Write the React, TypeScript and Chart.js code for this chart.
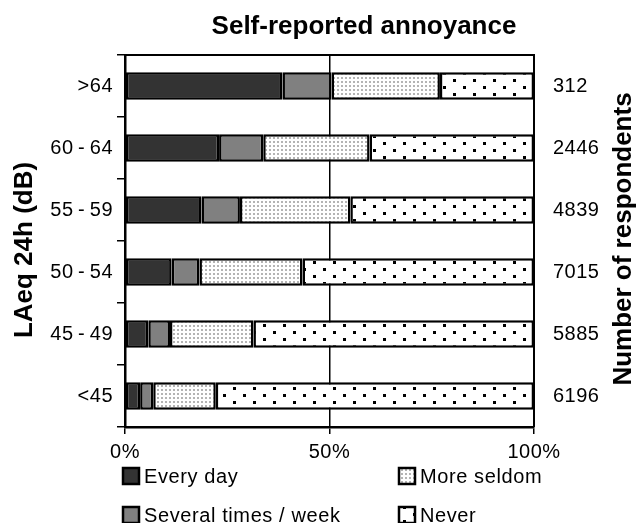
import React, { useEffect, useRef } from "react";
import { Chart, registerables } from "chart.js";

Chart.register(...registerables);

// ---- Data ----
const categories = [">64", "60\u2009-\u200964", "55\u2009-\u200959", "50\u2009-\u200954", "45\u2009-\u200949", "<45"];
const respondents = ["312", "2446", "4839", "7015", "5885", "6196"];
const everyDay = [38.5, 23, 18.7, 11.4, 5.7, 3.7];
const severalTimes = [12, 10.8, 9.4, 6.8, 5.3, 3.2];
const moreSeldom = [26.5, 26, 27, 25.2, 20.4, 15.3];
const never = [23, 40.2, 44.9, 56.6, 68.6, 77.8];
const seriesLabels = ["Every day", "Several times / week", "More seldom", "Never"];
const xTickValues = [0, 50, 100];

const chartTitle = "Self-reported annoyance";
const leftTitle = "LAeq 24h (dB)";
const rightTitle = "Number of respondents";

const FONT = "'Liberation Sans', Arial, Helvetica, sans-serif";

function makePattern(kind: "seldom" | "never"): CanvasPattern | string {
  const c = document.createElement("canvas");
  const g = c.getContext("2d");
  if (!g) return "#fff";
  if (kind === "seldom") {
    c.width = 4;
    c.height = 4;
    g.fillStyle = "#ffffff";
    g.fillRect(0, 0, 4, 4);
    g.fillStyle = "#b4b4b4";
    g.fillRect(1, 1, 2, 2);
  } else {
    c.width = 20;
    c.height = 14;
    g.fillStyle = "#ffffff";
    g.fillRect(0, 0, 20, 14);
    g.fillStyle = "#000000";
    g.fillRect(3, 2, 3, 3);
    g.fillRect(13, 9, 3, 3);
  }
  return g.createPattern(c, "repeat") || "#fff";
}

export default function App() {
  const canvasRef = useRef<HTMLCanvasElement | null>(null);

  useEffect(() => {
    const canvas = canvasRef.current;
    if (!canvas) return;
    const fills = ["#333333", "#808080", makePattern("seldom"), makePattern("never")];
    const seriesData = [everyDay, severalTimes, moreSeldom, never];

    const decor = {
      id: "decor",
      beforeDraw(chart: any) {
        chart.ctx.letterSpacing = "0.5px";
      },
      afterDraw(chart: any) {
        const ctx = chart.ctx as CanvasRenderingContext2D;
        const a = chart.chartArea;
        ctx.save();
        // top & right border
        ctx.strokeStyle = "#000";
        ctx.lineWidth = 2;
        ctx.beginPath();
        ctx.moveTo(a.left, a.top);
        ctx.lineTo(a.right, a.top);
        ctx.lineTo(a.right, a.bottom);
        ctx.stroke();

        // titles
        (ctx as any).letterSpacing = "0px";
        ctx.fillStyle = "#000";
        ctx.font = `bold 26px ${FONT}`;
        ctx.textAlign = "center";
        ctx.textBaseline = "alphabetic";
        ctx.fillText(chartTitle, 364, 34);

        ctx.save();
        ctx.translate(32, 250);
        ctx.rotate(-Math.PI / 2);
        ctx.fillText(leftTitle, 0, 0);
        ctx.restore();

        ctx.save();
        ctx.translate(631, 239);
        ctx.rotate(-Math.PI / 2);
        ctx.fillText(rightTitle, 0, 0);
        ctx.restore();

        // legend
        (ctx as any).letterSpacing = "0.6px";
        ctx.font = `20px ${FONT}`;
        ctx.textAlign = "left";
        ctx.textBaseline = "middle";
        const pos = [
          [123, 476],
          [123, 515],
          [399, 476],
          [399, 515],
        ];
        chart.data.datasets.forEach((ds: any, i: number) => {
          const [x, y] = pos[i];
          ctx.fillStyle = ds.backgroundColor;
          ctx.fillRect(x, y - 8, 16, 16);
          ctx.strokeStyle = "#000";
          ctx.lineWidth = 2.5;
          ctx.strokeRect(x, y - 8, 16, 16);
          ctx.fillStyle = "#000";
          ctx.fillText(ds.label, x + 21, y + 1);
        });
        ctx.restore();
      },
    };

    const chart = new Chart(canvas, {
      type: "bar",
      data: {
        labels: categories,
        datasets: seriesLabels.map((label, i) => ({
          label,
          data: seriesData[i],
          backgroundColor: fills[i] as any,
          borderColor: "#000",
          borderWidth: 2.5,
          borderSkipped: false,
          categoryPercentage: 1,
          barPercentage: 0.44,
          yAxisID: "y",
        })),
      },
      options: {
        indexAxis: "y",
        animation: false,
        responsive: true,
        maintainAspectRatio: false,
        layout: { padding: { top: 55, left: 0, right: 0, bottom: 0 } },
        plugins: {
          legend: { display: false },
          title: { display: false },
          tooltip: { enabled: false },
        },
        scales: {
          x: {
            type: "linear",
            stacked: true,
            min: 0,
            max: 100,
            afterBuildTicks: (scale: any) => {
              scale.ticks = xTickValues.map((v) => ({ value: v }));
            },
            afterFit: (scale: any) => {
              scale.height = 96;
            },
            ticks: {
              color: "#000",
              font: { family: FONT, size: 20 },
              padding: 6,
              maxRotation: 0,
              callback: (v: any) => `${v}%`,
            },
            grid: {
              color: "#000",
              lineWidth: 1.5,
              drawTicks: true,
              tickLength: 7,
            },
            border: { display: true, color: "#000", width: 2.5 },
          },
          y: {
            type: "category",
            stacked: true,
            position: "left",
            offset: true,
            afterFit: (scale: any) => {
              scale.width = 125;
            },
            ticks: {
              color: "#000",
              font: { family: FONT, size: 20 },
              padding: 4,
            },
            grid: {
              display: true,
              offset: true,
              drawOnChartArea: false,
              drawTicks: true,
              tickLength: 8,
              color: "#000",
              lineWidth: 1.5,
            },
            border: { display: true, color: "#000", width: 2.5 },
          },
          y1: {
            type: "category",
            position: "right",
            labels: respondents,
            offset: true,
            afterFit: (scale: any) => {
              scale.width = 103;
            },
            ticks: {
              color: "#000",
              font: { family: FONT, size: 20 },
              padding: 11,
            },
            grid: { display: false },
            border: { display: false },
          },
        },
      } as any,
      plugins: [decor as any],
    });

    return () => {
      chart.destroy();
    };
  }, []);

  return (
    <div style={{ position: "fixed", left: 0, top: 0, width: 637, height: 523, background: "#fff" }}>
      <canvas ref={canvasRef} />
    </div>
  );
}
